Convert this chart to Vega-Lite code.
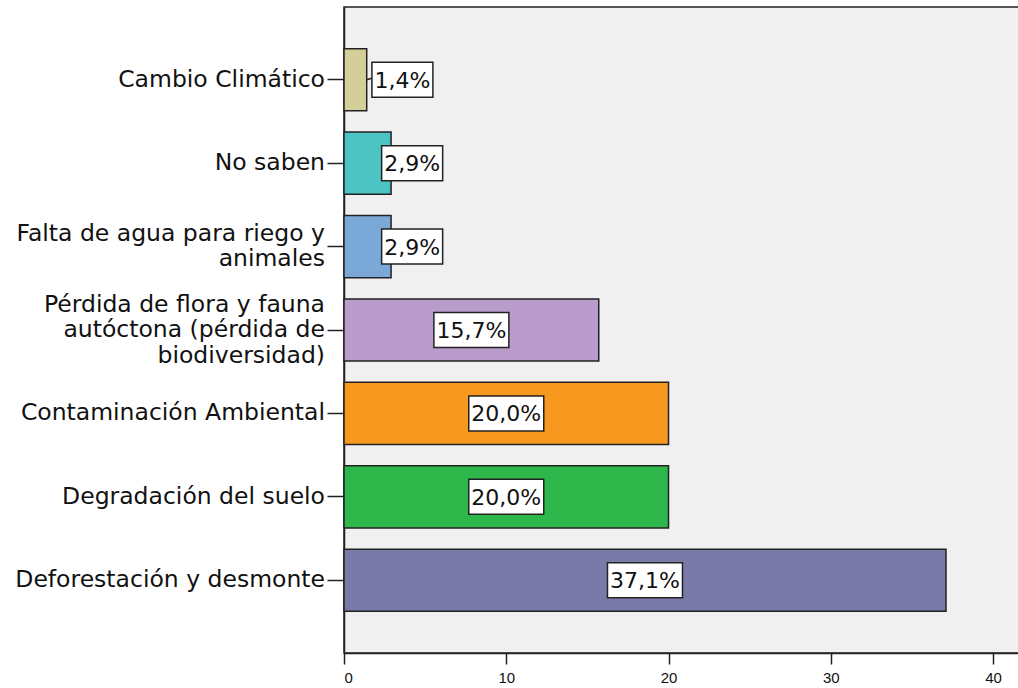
{
  "$schema": "https://vega.github.io/schema/vega-lite/v6.json",
  "width": 675,
  "height": 646,
  "autosize": {"type": "none"},
  "padding": {"left": 344, "top": 7, "right": 0, "bottom": 35},
  "background": "white",
  "config": {
    "view": {"fill": "#f0f0f0", "stroke": "#222222", "strokeWidth": 1.5},
    "font": "DejaVu Sans"
  },
  "data": {
    "values": [
      {"cat": "Cambio Climático", "value": 1.4},
      {"cat": "No saben", "value": 2.9},
      {"cat": "Falta de agua para riego y|animales", "value": 2.9},
      {"cat": "Pérdida de flora y fauna|autóctona (pérdida de|biodiversidad)", "value": 15.7},
      {"cat": "Contaminación Ambiental", "value": 20.0},
      {"cat": "Degradación del suelo", "value": 20.0},
      {"cat": "Deforestación y desmonte", "value": 37.1}
    ]
  },
  "transform": [
    {"calculate": "replace(format(datum.value, '.1f'), '.', ',') + '%'", "as": "pct"},
    {"calculate": "split(datum.cat, '|')", "as": "lines"},
    {"calculate": "datum.value < 2 ? datum.value + 2.2 : (datum.value < 5 ? datum.value + 1.3 : datum.value / 2)", "as": "labelPos"}
  ],
  "encoding": {
    "y": {
      "field": "cat",
      "type": "nominal",
      "sort": [
        "Cambio Climático",
        "No saben",
        "Falta de agua para riego y|animales",
        "Pérdida de flora y fauna|autóctona (pérdida de|biodiversidad)",
        "Contaminación Ambiental",
        "Degradación del suelo",
        "Deforestación y desmonte"
      ],
      "scale": {"paddingInner": 0.255, "paddingOuter": 0.5},
      "axis": {
        "title": null,
        "labels": false,
        "tickSize": 17,
        "tickColor": "#222222",
        "tickWidth": 1.5,
        "domainColor": "#222222",
        "domainWidth": 1.5,
        "grid": false
      }
    }
  },
  "layer": [
    {
      "mark": {"type": "bar", "stroke": "#222222", "strokeWidth": 1.5},
      "encoding": {
        "x": {
          "field": "value",
          "type": "quantitative",
          "scale": {"domain": [0, 41.6], "nice": false, "zero": true},
          "axis": {
            "title": null,
            "values": [0, 10, 20, 30, 40],
            "labelFont": "Liberation Sans",
            "labelFontSize": 15,
            "labelColor": "#111111",
            "labelPadding": 6,
            "tickSize": 11,
            "tickColor": "#222222",
            "tickWidth": 1.5,
            "domainColor": "#222222",
            "domainWidth": 1.5,
            "grid": false
          }
        },
        "color": {
          "field": "cat",
          "type": "nominal",
          "legend": null,
          "scale": {
            "domain": [
              "Cambio Climático",
              "No saben",
              "Falta de agua para riego y|animales",
              "Pérdida de flora y fauna|autóctona (pérdida de|biodiversidad)",
              "Contaminación Ambiental",
              "Degradación del suelo",
              "Deforestación y desmonte"
            ],
            "range": ["#d4cf9a", "#4cc4c4", "#7ba9d7", "#b99ccb", "#f8991f", "#2eb84b", "#7a7aa9"]
          }
        }
      }
    },
    {
      "mark": {
        "type": "text",
        "font": "DejaVu Sans",
        "fontSize": 23.5,
        "color": "#111111",
        "align": "right",
        "baseline": "middle",
        "lineHeight": 25.5,
        "dx": -19,
        "dy": {"expr": "-(length(split(datum.cat, '|')) - 1) * 12.75"}
      },
      "encoding": {
        "x": {"datum": 0, "type": "quantitative"},
        "text": {"field": "lines"}
      }
    },
    {
      "transform": [{"filter": "datum.value < 2"}],
      "mark": {"type": "rule", "stroke": "#222222", "strokeWidth": 1.5, "y2Offset": -11},
      "encoding": {
        "x": {"field": "value", "type": "quantitative", "aggregate": "mean"},
        "x2": {"field": "labelPos", "aggregate": "mean"},
        "y2": {"field": "cat"}
      }
    },
    {
      "mark": {"type": "point", "filled": true, "fill": "white", "opacity": 1, "stroke": "#222222", "strokeWidth": 1.5},
      "encoding": {
        "x": {"field": "labelPos", "type": "quantitative"},
        "shape": {
          "condition": {"test": "datum.value >= 10", "value": "M-1,-0.467H1V0.467H-1Z"},
          "value": "M-1,-0.574H1V0.574H-1Z"
        },
        "size": {"condition": {"test": "datum.value >= 10", "value": 5625}, "value": 3721}
      }
    },
    {
      "mark": {"type": "text", "font": "DejaVu Sans", "fontSize": 22, "color": "#111111", "align": "center", "baseline": "middle", "dy": 1},
      "encoding": {
        "x": {"field": "labelPos", "type": "quantitative"},
        "text": {"field": "pct"}
      }
    }
  ]
}
